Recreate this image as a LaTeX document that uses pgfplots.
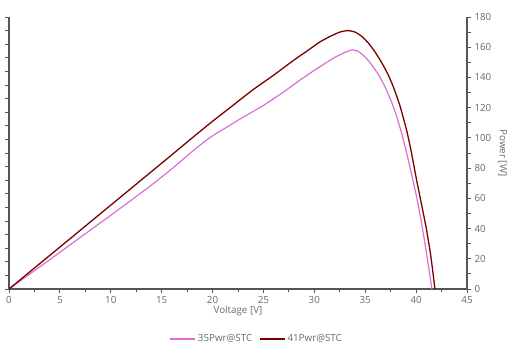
\documentclass[border=0pt]{standalone}
\usepackage{pgfplots}
\pgfplotsset{compat=1.18}
\usepackage{fontspec}
\setmainfont{Open Sans}
\definecolor{axgray}{HTML}{555555}
\definecolor{txtgray}{HTML}{6A6A6A}
\definecolor{pinkc}{HTML}{DA70D6}
\definecolor{redc}{HTML}{7A0000}
\begin{document}
\begin{tikzpicture}[x=1pt,y=1pt]
\useasboundingbox (0,0) rectangle (512,353);
% left axis (unlabelled ticks only)
\begin{axis}[
  at={(9pt,64pt)}, anchor=south west,
  scale only axis, width=458pt, height=272pt,
  xmin=0, xmax=45, ymin=0, ymax=20,
  axis x line=none,
  axis y line*=left,
  ytick={0,1,...,20}, yticklabels={},
  tick align=outside, major tick length=3.5pt,
  axis line style={axgray, line width=1.3pt},
  every tick/.style={axgray, line width=0.9pt},
]
\end{axis}
\begin{axis}[
  at={(9pt,64pt)}, anchor=south west,
  scale only axis, width=458pt, height=272pt,
  xmin=0, xmax=45, ymin=0, ymax=180,
  axis x line*=bottom, axis y line*=right,
  xtick={0,5,...,45}, minor xtick={2.5,7.5,...,42.5},
  ytick={0,20,...,180}, minor ytick={10,30,...,170},
  tick align=outside, major tick length=4pt, minor tick length=3.5pt,
  axis line style={axgray, line width=1.3pt},
  every tick/.style={axgray, line width=0.9pt},
  /pgf/number format/assume math mode=true,
  ticklabel style={font=\fontsize{9.8}{11}\selectfont, text=txtgray},
  xticklabel style={yshift=0pt},
  yticklabel style={xshift=0pt},
  xlabel={Voltage [V]}, ylabel={Power [W]},
  label style={font=\fontsize{9.8}{11}\selectfont, text=txtgray},
  xlabel style={yshift=5pt},
  ylabel style={rotate=180, xshift=0pt},
  legend columns=2,
  legend style={draw=none, fill=none, at={(0.541,-0.184)}, anchor=center,
    font=\fontsize{9.8}{11}\selectfont, text=txtgray,
    /tikz/every even column/.append style={column sep=5pt}},
  legend image code/.code={\draw[#1] (0pt,0pt) -- (25pt,0pt);},
]
\addplot[pinkc, line width=1.2pt, smooth, tension=0.35] coordinates {
(0,0) (2,9.7) (4,19.4) (6,29.2) (8,39) (10,48.8) (12,58.7) (14,68.8) (16,79.5)
(18,91) (19.5,99) (20.5,103.5) (21.5,107.5) (22.7,112.5) (25,121.5) (27,130.5) (28.6,138.3)
(30,144.7) (31.86,152.7) (33,156.5) (33.7,158.2) (34.3,157.3)
(35.0,153.5) (35.7,147.8) (36.4,140.8) (37.0,133) (37.6,123.5) (38.1,114)
(38.6,102.5) (39.07,90) (39.55,76) (40.05,61) (40.5,45.2) (40.86,30.4)
(41.2,15.8) (41.55,0)};
\addlegendentry{35Pwr@STC}
\addplot[redc, line width=1.3pt, smooth, tension=0.35] coordinates {
(0,0) (2,11.1) (4,22.2) (6,33.3) (8,44.4) (10,55.5) (12,66.6) (14,77.7)
(16,88.8) (18,100) (20,111) (22,121.5) (24,132) (26,141.5) (28,151.5)
(29.5,158.5) (30.5,163.3) (31.5,167) (32.5,170) (33.3,171) (34,170)
(34.7,167) (35.4,162) (36.0,156.5) (36.6,150) (37.2,142.5) (37.75,134)
(38.4,121.5) (39.07,105) (39.55,90) (40.05,72) (40.55,55.5) (41.03,39)
(41.45,21.5) (41.85,0)};
\addlegendentry{41Pwr@STC}
\end{axis}
\end{tikzpicture}
\end{document}
